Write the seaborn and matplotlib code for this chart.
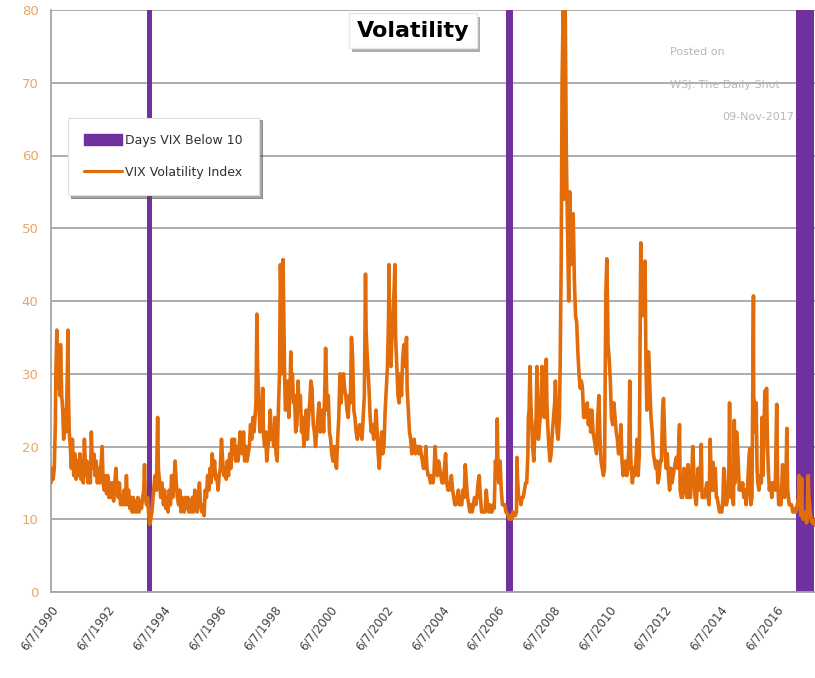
import matplotlib
matplotlib.use("Agg")
import matplotlib.pyplot as plt
import matplotlib.dates as mdates
import matplotlib.patheffects as pe
from matplotlib.patches import Patch
from matplotlib.lines import Line2D
import numpy as np
import pandas as pd
import seaborn as sns

# VIX, circa due punti al mese (mm-dd, valore)
vix_1990 = [("06-07", 15), ("06-20", 17), ("07-05", 15.5), ("07-20", 17), ("08-03", 23), ("08-10", 30),
            ("08-23", 36), ("09-05", 28), ("09-20", 33), ("10-01", 27), ("10-10", 34), ("10-25", 27),
            ("11-08", 25), ("11-20", 21), ("12-05", 25), ("12-20", 22)]
vix_1991 = [("01-07", 30), ("01-15", 36), ("01-22", 27), ("02-01", 22), ("02-15", 20), ("03-01", 17),
            ("03-15", 21), ("04-01", 16), ("04-15", 19), ("05-01", 15.5), ("05-15", 18), ("06-01", 16),
            ("06-20", 19), ("07-05", 15.5), ("07-20", 18), ("08-05", 15), ("08-19", 21), ("09-05", 16),
            ("09-20", 18), ("10-05", 15), ("10-20", 17), ("11-05", 15), ("11-18", 22), ("12-02", 17),
            ("12-20", 19)]
vix_1992 = [("01-06", 16), ("01-20", 18), ("02-05", 15), ("02-20", 17), ("03-05", 15), ("03-20", 17),
            ("04-08", 20), ("04-20", 15), ("05-05", 14), ("05-20", 16), ("06-05", 13.5), ("06-20", 16),
            ("07-05", 13), ("07-20", 15), ("08-05", 13), ("08-20", 15), ("09-05", 12.5), ("09-20", 15),
            ("10-05", 17), ("10-20", 14), ("11-05", 13), ("11-20", 15), ("12-05", 12), ("12-20", 13)]
vix_1993 = [("01-05", 12), ("01-20", 14), ("02-05", 12), ("02-20", 16), ("03-05", 12), ("03-20", 14),
            ("04-05", 11.5), ("04-20", 13), ("05-05", 11), ("05-20", 13), ("06-05", 11), ("06-20", 12.5),
            ("07-05", 11), ("07-20", 13), ("08-05", 11), ("08-20", 12.5), ("09-05", 11.5), ("09-20", 13),
            ("10-05", 14), ("10-15", 17.5), ("10-25", 13), ("11-10", 12), ("11-25", 13), ("12-10", 10.5),
            ("12-22", 9.3)]
vix_1994 = [("01-05", 10), ("01-20", 11), ("02-05", 13), ("02-20", 15), ("03-05", 16), ("03-20", 14),
            ("04-05", 24), ("04-15", 17), ("05-01", 15), ("05-15", 13), ("06-01", 15), ("06-20", 12),
            ("07-05", 14), ("07-20", 11.5), ("08-05", 13), ("08-20", 11), ("09-05", 14), ("09-20", 12),
            ("10-05", 16), ("10-20", 13), ("11-05", 15), ("11-20", 18), ("12-05", 15), ("12-20", 13)]
vix_1995 = [("01-05", 12), ("01-20", 14), ("02-05", 11), ("02-20", 13), ("03-05", 12), ("03-20", 11),
            ("04-05", 13), ("04-20", 11.5), ("05-05", 13), ("05-20", 11), ("06-05", 12.5), ("06-20", 11),
            ("07-05", 13), ("07-20", 11), ("08-05", 14), ("08-20", 12), ("09-05", 11), ("09-20", 13),
            ("10-05", 15), ("10-20", 12), ("11-05", 11), ("11-20", 12), ("12-05", 10.5), ("12-20", 14)]
vix_1996 = [("01-05", 13), ("01-20", 16), ("02-05", 14), ("02-20", 17), ("03-05", 15), ("03-20", 19),
            ("04-05", 16), ("04-20", 18), ("05-05", 15.5), ("05-20", 16), ("06-05", 14), ("06-20", 16),
            ("07-05", 17), ("07-20", 21), ("08-05", 18), ("08-20", 16), ("09-05", 17), ("09-20", 15.5),
            ("10-05", 18), ("10-20", 16), ("11-05", 19), ("11-20", 17), ("12-05", 21), ("12-20", 19)]
vix_1997 = [("01-05", 21), ("01-20", 18), ("02-05", 20), ("02-20", 18), ("03-05", 19), ("03-20", 22),
            ("04-05", 21), ("04-20", 19), ("05-05", 22), ("05-20", 18), ("06-05", 20), ("06-20", 18),
            ("07-05", 19), ("07-20", 20), ("08-05", 23), ("08-20", 21), ("09-05", 24), ("09-20", 22),
            ("10-15", 26), ("10-28", 38.2), ("11-05", 31), ("11-20", 27), ("12-05", 22), ("12-20", 24)]
vix_1998 = [("01-05", 24), ("01-12", 28), ("01-20", 22), ("02-05", 20), ("02-20", 22), ("03-05", 18),
            ("03-20", 20), ("04-05", 21), ("04-20", 25), ("05-05", 21), ("05-20", 22), ("06-05", 20),
            ("06-20", 24), ("07-05", 19), ("07-20", 18), ("08-05", 25), ("08-20", 30), ("08-31", 45),
            ("09-10", 40), ("09-20", 30), ("10-05", 45.7), ("10-15", 38), ("10-25", 30), ("11-05", 25),
            ("11-20", 26), ("12-05", 29), ("12-20", 24)]
vix_1999 = [("01-05", 28), ("01-15", 33), ("01-25", 27), ("02-05", 30), ("02-20", 26), ("03-05", 27),
            ("03-20", 22), ("04-05", 23), ("04-20", 29), ("05-05", 25), ("05-20", 27), ("06-05", 22),
            ("06-20", 24), ("07-05", 20), ("07-20", 22), ("08-05", 25), ("08-20", 21), ("09-05", 24),
            ("09-20", 26), ("10-05", 29), ("10-20", 28), ("11-05", 23), ("11-20", 22), ("12-05", 20),
            ("12-20", 22)]
vix_2000 = [("01-05", 24), ("01-20", 26), ("02-05", 22), ("02-20", 24), ("03-05", 25), ("03-20", 22),
            ("04-05", 28), ("04-15", 33.5), ("04-25", 29), ("05-05", 25), ("05-20", 27), ("06-05", 22),
            ("06-20", 21), ("07-05", 19), ("07-20", 18), ("08-05", 20), ("08-20", 18), ("09-05", 17),
            ("09-20", 21), ("10-05", 24), ("10-20", 30), ("11-05", 26), ("11-20", 29), ("12-05", 30),
            ("12-20", 28)]
vix_2001 = [("01-05", 27), ("01-20", 25), ("02-05", 24), ("02-20", 27), ("03-05", 26), ("03-20", 35),
            ("04-05", 32), ("04-20", 25), ("05-05", 24), ("05-20", 22), ("06-05", 21), ("06-20", 22),
            ("07-05", 23), ("07-20", 22), ("08-05", 21), ("08-20", 24), ("09-05", 27), ("09-20", 43.7),
            ("09-28", 36), ("10-10", 33), ("10-25", 30), ("11-05", 28), ("11-20", 24), ("12-05", 22),
            ("12-20", 23)]
vix_2002 = [("01-05", 21), ("01-20", 22), ("02-05", 25), ("02-20", 22), ("03-05", 19), ("03-20", 17),
            ("04-05", 20), ("04-20", 22), ("05-05", 19), ("05-20", 20), ("06-05", 25), ("06-20", 28),
            ("07-05", 31), ("07-20", 38), ("07-25", 45), ("08-05", 33), ("08-20", 31), ("09-05", 36),
            ("09-20", 39), ("10-05", 43), ("10-10", 45), ("10-20", 35), ("11-05", 31), ("11-20", 27),
            ("12-05", 26), ("12-20", 30)]
vix_2003 = [("01-05", 27), ("01-20", 32), ("02-05", 34), ("02-20", 31), ("03-05", 34), ("03-12", 35),
            ("03-20", 28), ("04-05", 25), ("04-20", 22), ("05-05", 21), ("05-20", 19), ("06-05", 20),
            ("06-20", 21), ("07-05", 19), ("07-20", 20), ("08-05", 20), ("08-20", 19), ("09-05", 20),
            ("09-20", 19), ("10-05", 18), ("10-20", 17), ("11-05", 17), ("11-20", 20), ("12-05", 17),
            ("12-20", 16)]
vix_2004 = [("01-05", 16), ("01-20", 15), ("02-05", 16), ("02-20", 15), ("03-05", 16), ("03-20", 20),
            ("04-05", 17), ("04-20", 16), ("05-05", 18), ("05-20", 17), ("06-05", 16), ("06-20", 15),
            ("07-05", 15), ("07-20", 17), ("08-05", 19), ("08-20", 15), ("09-05", 14), ("09-20", 14),
            ("10-05", 15), ("10-20", 16), ("11-05", 14), ("11-20", 13), ("12-05", 12), ("12-20", 12)]
vix_2005 = [("01-05", 13), ("01-20", 14), ("02-05", 12), ("02-20", 12), ("03-05", 12), ("03-20", 14),
            ("04-05", 13), ("04-20", 17.5), ("05-05", 15), ("05-20", 13), ("06-05", 12), ("06-20", 11),
            ("07-05", 12), ("07-20", 11), ("08-05", 12), ("08-20", 13), ("09-05", 12), ("09-20", 13),
            ("10-05", 15), ("10-20", 16), ("11-05", 13), ("11-20", 11), ("12-05", 11), ("12-20", 11)]
vix_2006 = [("01-05", 11), ("01-20", 14), ("02-05", 12), ("02-20", 11), ("03-05", 12), ("03-20", 11),
            ("04-05", 11), ("04-20", 12), ("05-05", 11.5), ("05-20", 18), ("06-05", 17), ("06-13", 23.8),
            ("06-25", 16), ("07-05", 15), ("07-20", 18), ("08-05", 14), ("08-20", 12), ("09-05", 12),
            ("09-20", 12), ("10-05", 11), ("10-20", 10.8), ("11-05", 10.5), ("11-20", 10), ("12-05", 10.5),
            ("12-20", 10)]
vix_2007 = [("01-05", 11), ("01-20", 10.5), ("02-05", 10.5), ("02-20", 11), ("02-27", 18.5), ("03-05", 16),
            ("03-20", 13), ("04-05", 13), ("04-20", 12), ("05-05", 13), ("05-20", 13), ("06-05", 14),
            ("06-20", 15), ("07-05", 15), ("07-20", 19), ("07-26", 24), ("08-05", 25), ("08-16", 31),
            ("08-28", 26), ("09-05", 24), ("09-20", 20), ("10-05", 18), ("10-20", 22), ("11-05", 24),
            ("11-15", 31), ("11-26", 25), ("12-05", 21), ("12-20", 23)]
vix_2008 = [("01-05", 25), ("01-22", 31), ("02-05", 28), ("02-20", 24), ("03-05", 27), ("03-17", 32),
            ("03-25", 26), ("04-05", 23), ("04-20", 20), ("05-05", 18), ("05-20", 19), ("06-05", 22),
            ("06-20", 24), ("07-05", 26), ("07-15", 29), ("08-05", 22), ("08-20", 21), ("09-05", 24),
            ("09-15", 31), ("09-29", 46), ("10-10", 70), ("10-24", 80), ("11-05", 54), ("11-20", 80.8),
            ("12-05", 60), ("12-20", 50)]
vix_2009 = [("01-05", 40), ("01-20", 55), ("02-05", 45), ("02-20", 48), ("03-05", 52), ("03-20", 43),
            ("04-05", 38), ("04-20", 37), ("05-05", 33), ("05-20", 30), ("06-05", 28), ("06-20", 29),
            ("07-05", 28), ("07-20", 24), ("08-05", 25), ("08-20", 24), ("09-05", 26), ("09-20", 23),
            ("10-05", 25), ("10-20", 22), ("11-05", 25), ("11-20", 22), ("12-05", 21), ("12-20", 20)]
vix_2010 = [("01-05", 19), ("01-20", 24), ("02-05", 27), ("02-20", 21), ("03-05", 18), ("03-20", 17),
            ("04-05", 16), ("04-20", 17), ("05-07", 41), ("05-20", 45.8), ("06-05", 34), ("06-20", 32),
            ("07-05", 29), ("07-20", 24), ("08-05", 23), ("08-20", 26), ("09-05", 24), ("09-20", 22),
            ("10-05", 21), ("10-20", 19), ("11-05", 19), ("11-20", 23), ("12-05", 18), ("12-20", 16)]
vix_2011 = [("01-05", 17), ("01-20", 18), ("02-05", 16), ("02-20", 17), ("03-05", 20), ("03-16", 29),
            ("03-25", 20), ("04-05", 17), ("04-20", 15), ("05-05", 17), ("05-20", 16), ("06-05", 18),
            ("06-20", 21), ("07-05", 16), ("07-20", 19), ("08-08", 48), ("08-20", 42), ("09-05", 38),
            ("09-20", 41), ("10-03", 45.5), ("10-15", 31), ("10-28", 25), ("11-05", 33), ("11-20", 33),
            ("12-05", 28), ("12-20", 24)]
vix_2012 = [("01-05", 22), ("01-20", 19), ("02-05", 18), ("02-20", 17), ("03-05", 18), ("03-20", 15),
            ("04-05", 16), ("04-20", 18), ("05-05", 18), ("05-20", 25), ("06-01", 26.6), ("06-20", 20),
            ("07-05", 17), ("07-20", 19), ("08-05", 16), ("08-20", 14), ("09-05", 17), ("09-20", 15),
            ("10-05", 16), ("10-20", 17), ("11-05", 18), ("11-16", 18.5), ("12-05", 17), ("12-28", 23)]
vix_2013 = [("01-05", 14), ("01-20", 13), ("02-05", 13), ("02-25", 17), ("03-05", 14), ("03-20", 14),
            ("04-05", 13), ("04-18", 17.5), ("05-05", 13), ("05-20", 13), ("06-05", 16), ("06-20", 20),
            ("07-05", 16), ("07-20", 13), ("08-05", 12), ("08-27", 17), ("09-05", 16), ("09-20", 14),
            ("10-09", 20.3), ("10-20", 13), ("11-05", 13), ("11-20", 13), ("12-05", 14), ("12-20", 15)]
vix_2014 = [("01-05", 13), ("01-20", 12), ("02-03", 21), ("02-20", 14), ("03-05", 14), ("03-14", 17.8),
            ("03-25", 14), ("04-11", 17), ("04-25", 13), ("05-05", 13), ("05-20", 12), ("06-05", 11),
            ("06-20", 11), ("07-05", 11), ("07-20", 12.8), ("07-31", 17), ("08-08", 16.7), ("08-20", 12),
            ("09-05", 12), ("09-20", 13), ("10-05", 16), ("10-15", 26), ("10-25", 15), ("11-05", 13),
            ("11-20", 13), ("12-05", 12), ("12-16", 23.6), ("12-25", 15)]
vix_2015 = [("01-05", 19), ("01-15", 22), ("01-28", 20), ("02-05", 18), ("02-20", 14), ("03-05", 15),
            ("03-20", 14), ("04-05", 15), ("04-20", 13), ("05-05", 14), ("05-20", 12), ("06-05", 14),
            ("06-29", 18.9), ("07-08", 19.7), ("07-20", 12), ("08-05", 13), ("08-24", 40.7), ("08-27", 27),
            ("09-05", 26), ("09-20", 22), ("09-29", 26), ("10-10", 17), ("10-20", 15), ("11-05", 14),
            ("11-20", 16), ("12-05", 15), ("12-14", 24), ("12-25", 16)]
vix_2016 = [("01-05", 20), ("01-20", 27.6), ("02-05", 23), ("02-11", 28), ("02-25", 20), ("03-05", 17),
            ("03-20", 14), ("04-05", 15), ("04-20", 13), ("05-05", 15), ("05-20", 15), ("06-05", 14),
            ("06-24", 25.8), ("07-05", 16), ("07-20", 12), ("08-05", 12), ("08-20", 12), ("09-09", 17.5),
            ("09-20", 15), ("10-05", 13), ("10-20", 14), ("11-04", 22.5), ("11-15", 14), ("12-05", 12),
            ("12-20", 12)]
vix_2017 = [("01-05", 12), ("01-20", 11), ("02-05", 11), ("02-20", 11.5), ("03-05", 11), ("03-20", 12),
            ("04-05", 13), ("04-13", 16), ("04-20", 15), ("05-05", 10.5), ("05-17", 15.6), ("05-25", 10.5),
            ("06-05", 10), ("06-20", 10.5), ("07-05", 11), ("07-20", 9.5), ("07-28", 10), ("08-10", 16),
            ("08-20", 13), ("09-05", 11), ("09-20", 10), ("10-05", 9.5), ("10-20", 9.8), ("11-03", 9.2),
            ("11-08", 10)]

# periodi con VIX sotto 10 (barre viola alte quanto l'asse)
sotto10_inizio = ["1993-11-20", "2006-10-01", "2017-03-05"]
sotto10_fine = ["1994-01-20", "2006-12-31", "2017-10-25"]
sotto10_altezza = 80

anni_tick = list(range(1990, 2017, 2))

blocchi = {1990: vix_1990, 1991: vix_1991, 1992: vix_1992, 1993: vix_1993, 1994: vix_1994,
           1995: vix_1995, 1996: vix_1996, 1997: vix_1997, 1998: vix_1998, 1999: vix_1999,
           2000: vix_2000, 2001: vix_2001, 2002: vix_2002, 2003: vix_2003, 2004: vix_2004,
           2005: vix_2005, 2006: vix_2006, 2007: vix_2007, 2008: vix_2008, 2009: vix_2009,
           2010: vix_2010, 2011: vix_2011, 2012: vix_2012, 2013: vix_2013, 2014: vix_2014,
           2015: vix_2015, 2016: vix_2016, 2017: vix_2017}
righe = [(pd.Timestamp(f"{anno}-{md}"), v) for anno, punti in blocchi.items() for md, v in punti]
df = pd.DataFrame(righe, columns=["data", "vix"])

ARANCIO = "#E36C0A"
VIOLA = "#7030A0"
GRIGIO = "#A6A6A6"

sns.set_style("white")
fig = plt.figure(figsize=(8.15, 6.78), dpi=100)
ax = fig.add_axes([51 / 815, 86 / 678, 764 / 815, 582 / 678])

# barre viola
inizi = mdates.date2num(pd.to_datetime(sotto10_inizio))
fini = mdates.date2num(pd.to_datetime(sotto10_fine))
ax.bar(inizi, [sotto10_altezza] * len(inizi), width=fini - inizi, align="edge",
       color=VIOLA, linewidth=0, zorder=2)

sns.lineplot(data=df, x="data", y="vix", color=ARANCIO, linewidth=2.6, ax=ax, zorder=3)

ax.set_xlim(pd.Timestamp("1990-06-07"), pd.Timestamp("2017-11-08"))
ax.set_ylim(0, 80)
ax.set_yticks(range(0, 81, 10))
ax.yaxis.grid(True, color=GRIGIO, linewidth=1.3, zorder=0)
ax.set_axisbelow(True)
ax.set_xlabel("")
ax.set_ylabel("")

date_tick = [pd.Timestamp(f"{a}-06-07") for a in anni_tick]
ax.set_xticks(date_tick)
ax.set_xticklabels([f"6/7/{a}" for a in anni_tick], rotation=52, ha="right",
                   rotation_mode="anchor", fontsize=8.5, color="#404040")
ax.tick_params(axis="x", direction="out", length=5, width=1, color=GRIGIO, pad=3)
ax.tick_params(axis="y", direction="out", length=5, width=1, color=GRIGIO,
               labelsize=9.5, labelcolor="#E6A866", pad=4)

for s in ["top", "right"]:
    ax.spines[s].set_visible(False)
for s in ["left", "bottom"]:
    ax.spines[s].set_color(GRIGIO)
    ax.spines[s].set_linewidth(1.3)

# legenda stile Excel con ombra
maniglie = [Patch(facecolor=VIOLA, edgecolor=VIOLA),
            Line2D([0], [0], color=ARANCIO, linewidth=2.3)]
leg = ax.legend(maniglie, ["Days VIX Below 10", "VIX Volatility Index"], loc="upper left",
                bbox_to_anchor=(0.022, 0.815), borderaxespad=0, fontsize=9,
                frameon=True, fancybox=False, shadow=True, handlelength=3.0,
                handleheight=0.9, labelspacing=1.5, borderpad=1.3, handletextpad=0.3)
leg.get_frame().set_edgecolor("#E0E0E0")
leg.get_frame().set_linewidth(0.8)
for t in leg.get_texts():
    t.set_color("#303030")

# titolo in riquadro bianco con ombra
tit = fig.text(0.507, 0.955, "Volatility", ha="center", va="center", fontsize=16,
               fontweight="bold", color="black",
               bbox=dict(boxstyle="square,pad=0.35", facecolor="white", edgecolor="#E8E8E8"))
tit.get_bbox_patch().set_path_effects([pe.SimplePatchShadow(offset=(2, -3), alpha=0.45), pe.Normal()])

# nota WSJ
fig.text(670 / 815, 1 - 52 / 678, "Posted on", ha="left", va="center", fontsize=8, color="#B8B8B8")
fig.text(670 / 815, 1 - 85 / 678, "WSJ: The Daily Shot", ha="left", va="center", fontsize=8,
         color="#B8B8B8")
fig.text(794 / 815, 1 - 117 / 678, "09-Nov-2017", ha="right", va="center", fontsize=8,
         color="#B8B8B8")

fig.savefig("out.png", dpi=100)
